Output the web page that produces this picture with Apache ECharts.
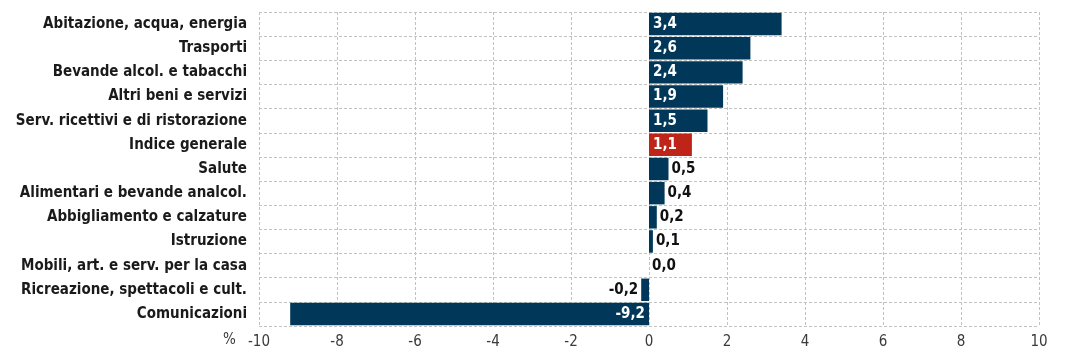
<!DOCTYPE html>
<html><head><meta charset="utf-8">
<script src="https://cdn.jsdelivr.net/npm/echarts@6/dist/echarts.min.js"></script>
<style>html,body{margin:0;padding:0;background:#fff}#c{width:1070px;height:362px}</style>
</head><body><div id="c"></div>
<script>
var categories = ["Abitazione, acqua, energia","Trasporti","Bevande alcol. e tabacchi","Altri beni e servizi","Serv. ricettivi e di ristorazione","Indice generale","Salute","Alimentari e bevande analcol.","Abbigliamento e calzature","Istruzione","Mobili, art. e serv. per la casa","Ricreazione, spettacoli e cult.","Comunicazioni"];
var values = [3.4,2.6,2.4,1.9,1.5,1.1,0.5,0.4,0.2,0.1,0.0,-0.2,-9.2];
var highlight = "Indice generale";
var xTicks = {min:-10,max:10,interval:2};
var FONT = '"Liberation Sans Narrow","Arial Narrow","DejaVu Sans Condensed",sans-serif';
var NAVY = '#01385a', RED = '#be2418';

var data = values.map(function(v,i){
  var big = Math.abs(v) >= 1;
  var item = {value:v, itemStyle:{color: categories[i]===highlight ? RED : NAVY}};
  if (big) {
    item.label = {position: v >= 0 ? 'insideLeft' : 'insideRight', color:'#fff', distance:4};
  } else {
    item.label = {position: v >= 0 ? 'right' : 'left', color:'#111', distance:3};
  }
  return item;
});

var chart = echarts.init(document.getElementById('c'), null, {renderer:'canvas'});
chart.setOption({
  animation:false,
  grid:{left:259,right:31,top:12,bottom:36,containLabel:false},
  xAxis:{type:'value',min:xTicks.min,max:xTicks.max,interval:xTicks.interval,
    axisLine:{show:false},axisTick:{show:false},
    axisLabel:{fontFamily:FONT,fontSize:15,color:'#3a3a3a',margin:9},
    splitLine:{show:true,lineStyle:{color:'#c2c2c2',type:[3,2],width:1}}},
  yAxis:{type:'category',data:categories,inverse:true,
    axisLine:{show:false},axisTick:{show:false},
    axisLabel:{fontFamily:FONT,fontSize:15,fontWeight:'bold',color:'#1a1a1a',margin:12},
    splitLine:{show:true,lineStyle:{color:'#c2c2c2',type:[3,2],width:1}}},
  graphic:[{type:'text',left:223,top:333,style:{text:'%',font:'15px '+FONT,fill:'#3a3a3a'}}],
  series:[{type:'bar',data:data,barCategoryGap:'7%',
    label:{show:true,fontFamily:FONT,fontSize:15,fontWeight:'bold',
      formatter:function(p){return p.value.toFixed(1).replace('.',',');}}}]
});
</script></body></html>
